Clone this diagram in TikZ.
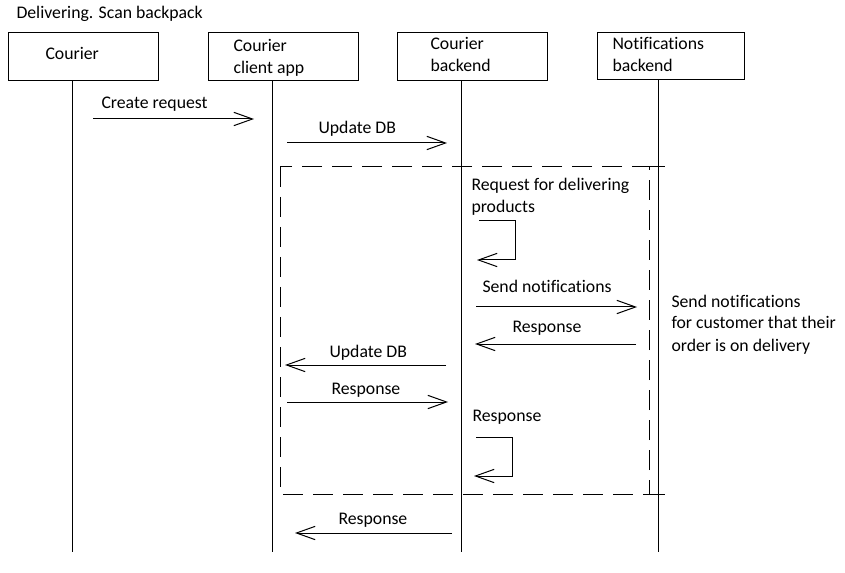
\documentclass[tikz,border=0pt]{standalone}
\usepackage{fontspec}
\setmainfont{Carlito}[Ligatures=NoCommon]
\usetikzlibrary{arrows.meta}
\begin{document}
\begin{tikzpicture}[x=0.75pt,y=-0.75pt,line width=0.75pt,
  font=\fontsize{13.3}{16}\selectfont,
  box/.style={draw,anchor=north west,inner sep=0pt,minimum height=36pt},
  lbl/.style={anchor=base west,inner sep=0pt,yshift=-0.75pt},
  life/.style={line width=0.75pt},
  msg/.style={-{Straight Barb[length=14pt,width=10pt,line width=0.75pt]}},
  frame/.style={dash pattern=on 15pt off 7.5pt}]
\useasboundingbox (0,0) rectangle (845,573);
% title
\node[lbl] (title) at (16,18) {Delivering. Scan backpack};
% participants
\node[box,minimum width=112.5pt] (p1) at (8,32) {};
\node[box,minimum width=112.5pt] (p2) at (208,32) {};
\node[box,minimum width=112.5pt] (p3) at (397,32) {};
\node[box,minimum width=110.25pt,minimum height=35.25pt] (p4) at (597,32) {};
\node[lbl] (t1) at (45,59) {Courier};
\node[lbl] (t2a) at (233,51) {Courier};
\node[lbl] (t2b) at (233,73) {client app};
\node[lbl] (t3a) at (430,49) {Courier};
\node[lbl] (t3b) at (430,71) {backend};
\node[lbl] (t4a) at (612,49) {Notifications};
\node[lbl] (t4b) at (612,71) {backend};
% lifelines
\coordinate (e1) at (72,552);
\coordinate (e2) at (272,552);
\coordinate (e3) at (461,552);
\coordinate (e4) at (658,552);
\draw[life] (p1.south -| e1) -- (e1);
\draw[life] (p2.south -| e2) -- (e2);
\draw[life] (p3.south -| e3) -- (e3);
\draw[life] (p4.south -| e4) -- (e4);
% frame
\coordinate (f1) at (280,167);
\coordinate (f2) at (649,494);
\draw[frame] (f1) rectangle (f2);
\coordinate (f3) at (665,167);
\coordinate (f4) at (665,494);
\draw[frame] (f2 |- f1) -- (f3);
\draw[frame] (f2) -- (f4);
% messages
\coordinate (a1s) at (93,119); \coordinate (a1e) at (254,119);
\draw[msg] (a1s) -- (a1e);
\node[lbl] (m1) at (101,108) {Create request};
\coordinate (a2s) at (287,143); \coordinate (a2e) at (447,143);
\draw[msg] (a2s) -- (a2e);
\node[lbl] (m2) at (318,133) {Update DB};
\node[lbl] (m3a) at (471,190) {Request for delivering};
\node[lbl] (m3b) at (471,212) {products};
\coordinate (l1s) at (479,221); \coordinate (l1e) at (477,260);
\draw[msg] (l1s) -- (515,221) -- (515,260) -- (l1e);
\coordinate (a4s) at (476,307); \coordinate (a4e) at (637,307);
\draw[msg] (a4s) -- (a4e);
\node[lbl] (m4) at (482,292) {Send notifications};
\coordinate (a5s) at (636,344); \coordinate (a5e) at (475,344);
\draw[msg] (a5s) -- (a5e);
\node[lbl] (m5) at (512,332) {Response};
\coordinate (a6s) at (446,365); \coordinate (a6e) at (285,365);
\draw[msg] (a6s) -- (a6e);
\node[lbl] (m6) at (329,356) {Update DB};
\coordinate (a7s) at (287,402); \coordinate (a7e) at (448,402);
\draw[msg] (a7s) -- (a7e);
\node[lbl] (m7) at (331,393) {Response};
\node[lbl] (m8) at (472,420) {Response};
\coordinate (l2s) at (476,437); \coordinate (l2e) at (474,476);
\draw[msg] (l2s) -- (512,437) -- (512,476) -- (l2e);
\coordinate (a9s) at (452,533); \coordinate (a9e) at (295,533);
\draw[msg] (a9s) -- (a9e);
\node[lbl] (m9) at (338,523) {Response};
% note
\node[lbl] (n1) at (671,306) {Send notifications};
\node[lbl] (n2) at (671,328) {for customer that their};
\node[lbl] (n3) at (671,350) {order is on delivery};
\end{tikzpicture}
\end{document}
